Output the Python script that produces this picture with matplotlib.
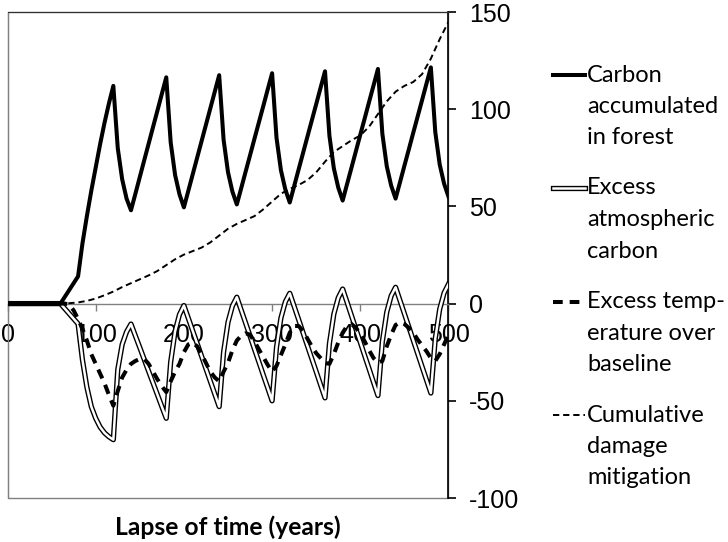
import matplotlib
matplotlib.use("Agg")
import matplotlib.pyplot as plt
from matplotlib.lines import Line2D
from matplotlib.patches import Rectangle

plt.rcParams["lines.scale_dashes"] = False

# time axis (years), 5-year steps
years = list(range(0, 505, 5))

carbon_forest = [
    0, 0, 0, 0, 0, 0, 0, 0, 0, 0, 0, 0, 0,
    3.5, 7, 10.5, 14,
    31, 45, 58, 70, 82, 93, 103, 112,
    80, 64, 54, 48,
    56.5, 65.1, 73.7, 82.2, 90.8, 99.3, 107.9, 116.4,
    83, 66.2, 56.2, 49.5,
    58, 66.5, 75, 83.5, 92, 100.5, 109, 117.5,
    84.3, 67.6, 57.6, 51,
    59.4, 67.9, 76.3, 84.8, 93.2, 101.6, 110.1, 118.5,
    85.3, 68.6, 58.7, 52,
    60.4, 68.9, 77.3, 85.8, 94.2, 102.6, 111.1, 119.5,
    86.3, 69.6, 59.7, 53,
    61.5, 69.9, 78.4, 86.9, 95.3, 103.8, 112.2, 120.7,
    87.4, 70.7, 60.7, 54,
    62.4, 70.9, 79.3, 87.8, 96.2, 104.6, 113.1, 121.5,
    88.3, 71.6, 61.7, 55,
]

excess_atmos = [
    0, 0, 0, 0, 0, 0, 0, 0, 0, 0, 0, 0, 0,
    -2.6, -5.2, -7.8, -10.4,
    -29, -43, -53, -59, -63.5, -66.5, -68.5, -70,
    -34, -21, -14.5, -10.5,
    -16.6, -22.6, -28.7, -34.8, -40.8, -46.9, -53, -59,
    -30, -14.3, -5.6, -1,
    -7.5, -14, -20.5, -27, -33.5, -40, -46.5, -53,
    -24.9, -9.6, -1.2, 3.3,
    -3.4, -10, -16.7, -23.4, -30, -36.7, -43.3, -50,
    -22.4, -7.4, 0.9, 5.3,
    -1.4, -8.1, -14.9, -21.6, -28.3, -35, -41.8, -48.5,
    -20.5, -5.4, 3, 7.5,
    0.7, -6.2, -13.1, -19.9, -26.8, -33.6, -40.5, -47.3,
    -19.5, -4.4, 4, 8.4,
    1.6, -5.2, -12, -18.8, -25.6, -32.4, -39.2, -46,
    -18, -2.9, 5.5, 10,
]

excess_temp = [
    0, 0, 0, 0, 0, 0, 0, 0, 0, 0, 0, 0, 0, 0,
    -0.5, -3.5, -8, -13, -19, -26, -31, -36, -41, -47, -52.5,
    -45, -38, -34, -31, -29.5, -28.5, -28.5, -31, -35, -39, -42.5, -45.5,
    -40, -35, -31, -25, -21, -20, -22, -26, -30.5, -35, -38, -40,
    -35, -30.5, -24, -19, -16.5, -15.3, -16, -19.5, -23.5, -27.5, -31.5, -35,
    -32, -26.5, -21, -15, -11.5, -11.5, -14, -18, -22, -25.5, -28, -30.5,
    -31, -26, -20, -15, -11.5, -10.5, -12.5, -15.5, -19.5, -24, -28, -30.5,
    -29.5, -22, -16, -11, -9.6, -10.5, -12.5, -15, -18.5, -21.5, -24.5, -28,
    -29.5, -26, -21, -16,
]

# cumulative damage mitigation, 10-year steps
damage_years = list(range(0, 510, 10))
damage_mitigation = [
    0, 0, 0, 0, 0, 0, 0,
    0.2, 0.6, 1.4, 2.6, 4.3, 6.2, 8.5, 10.5, 12.5, 14.5, 16.8, 19.8, 22.8,
    25.2, 27, 28.8, 31.5, 35, 38.5, 41, 43, 45, 48.5, 52.5, 56.5, 59, 61,
    63.5, 67.5, 73, 78, 81, 84, 86.5, 91, 97.5, 104, 109, 112, 114, 118,
    126, 136, 145,
]

x_ticks = [0, 100, 200, 300, 400, 500]
y_ticks = [-100, -50, 0, 50, 100, 150]
x_label = "Lapse of time (years)"
legend_labels = [
    ["Carbon", "accumulated", "in forest"],
    ["Excess", "atmospheric", "carbon"],
    ["Excess temp-", "erature over", "baseline"],
    ["Cumulative", "damage", "mitigation"],
]

W, H = 728, 542
fig = plt.figure(figsize=(W / 100, H / 100), dpi=100)
ax = fig.add_axes([7.5 / W, 1 - 498 / H, 441 / W, 486 / H])
ax.set_xlim(0, 500)
ax.set_ylim(-100, 150)

tick_font = dict(family="Liberation Sans", size=18)
text_font = "Lato"
frame_grey = "#808080"

# series
ax.plot(years, excess_atmos, color="black", lw=3.8, zorder=3)
ax.plot(years, excess_atmos, color="white", lw=1.8, zorder=3.1)
ax.plot(years, carbon_forest, color="black", lw=2.9, zorder=4)
ax.plot(years, excess_temp, color="black", lw=2.9, dashes=(7, 5), zorder=5)
ax.plot(damage_years, damage_mitigation, color="black", lw=1.4, dashes=(4.5, 2.8), zorder=6)

# axes styling: x axis crosses at zero, value axis on the right
ax.spines["bottom"].set_position(("data", 0))
ax.spines["bottom"].set_color(frame_grey)
ax.spines["bottom"].set_linewidth(1.0)
ax.spines["left"].set_color(frame_grey)
ax.spines["top"].set_color("#303030")
ax.spines["right"].set_color("black")
ax.spines["right"].set_linewidth(1.2)
ax.add_patch(Rectangle((0, 0), 1, 1, transform=ax.transAxes, fill=False,
                       edgecolor=frame_grey, lw=1.0, clip_on=False, zorder=0))

ax.set_xticks(x_ticks)
ax.set_yticks(y_ticks)
ax.set_xticklabels([str(v) for v in x_ticks], fontdict=tick_font)
ax.set_yticklabels([str(v) for v in y_ticks], fontdict=tick_font)
ax.yaxis.tick_right()
ax.tick_params(axis="x", direction="out", length=5, width=1, color=frame_grey, pad=9)
ax.tick_params(axis="y", direction="out", length=5.4, width=1.2, color="black", pad=9.2)
ax.tick_params(axis="y", left=False)

xlab = fig.text(228 / W, 1 - 527 / H, x_label, ha="center", va="center",
                family=text_font, weight="bold", size=18.5)

# legend drawn beside the plot
def fx(px):
    return px / W

def fy(py):
    return 1 - py / H

group_y = [75, 188, 301.5, 415]
line_gap = 31.5
sample_x0, sample_x1 = 553, 585
text_x = 587
styles = [
    dict(color="black", lw=2.9),
    None,
    dict(color="black", lw=2.9, dashes=(7, 5)),
    dict(color="black", lw=1.4, dashes=(4.5, 2.8)),
]
legend_texts = []
for gy, labels, st in zip(group_y, legend_labels, styles):
    xs = [fx(sample_x0), fx(sample_x1)]
    ys = [fy(gy), fy(gy)]
    if st is None:
        fig.add_artist(Line2D(xs, ys, color="black", lw=3.8, transform=fig.transFigure))
        fig.add_artist(Line2D(xs, ys, color="white", lw=1.8, transform=fig.transFigure))
    else:
        fig.add_artist(Line2D(xs, ys, transform=fig.transFigure, **st))
    for i, lab in enumerate(labels):
        legend_texts.append(fig.text(fx(text_x), fy(gy + i * line_gap + 6.5), lab,
                                     ha="left", va="baseline", family=text_font, size=18.5))

# size the legend text: "atmospheric" about 134 px wide, and no line
# running past the right edge; the axis title about 226 px wide
fig.canvas.draw()
renderer = fig.canvas.get_renderer()
widths = [t.get_window_extent(renderer).width for t in legend_texts]
scale = min(134.0 / widths[4], (W - text_x - 2) / max(widths))
for t in legend_texts:
    t.set_fontsize(t.get_fontsize() * scale)
xscale = 226.0 / xlab.get_window_extent(renderer).width
xlab.set_fontsize(xlab.get_fontsize() * xscale)

fig.savefig("out.png", dpi=100)
